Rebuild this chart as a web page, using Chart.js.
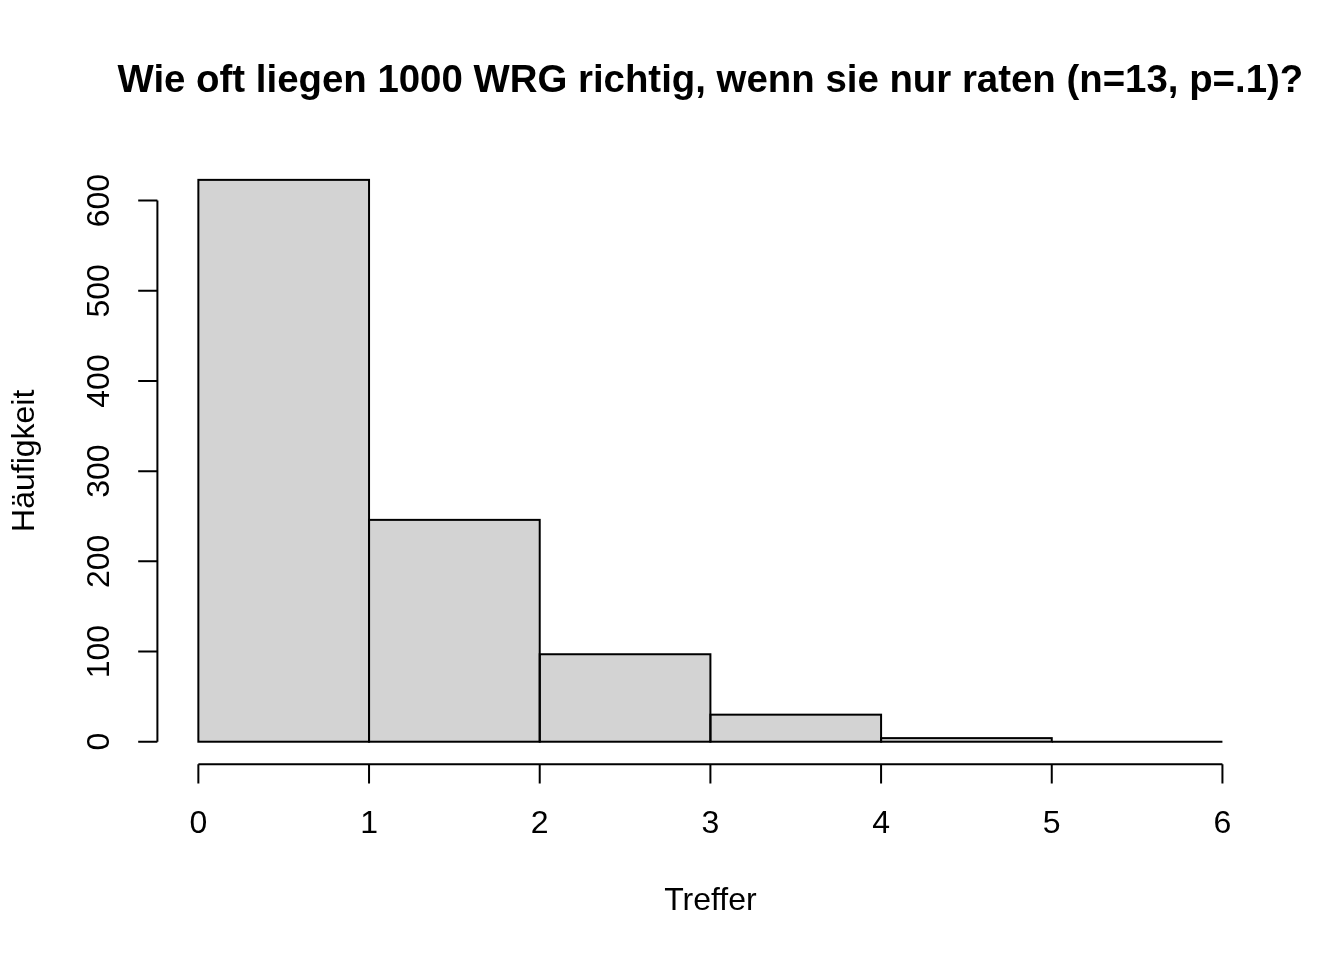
<!DOCTYPE html>
<html>
<head>
<meta charset="utf-8">
<script src="https://cdn.jsdelivr.net/npm/chart.js@4/dist/chart.umd.min.js"></script>
<style>
  html, body { margin: 0; padding: 0; background: #ffffff; }
  canvas { display: block; }
</style>
</head>
<body>
<canvas id="c" width="1344" height="960"></canvas>
<script>
// ---- data ----
const titleText = "Wie oft liegen 1000 WRG richtig, wenn sie nur raten (n=13, p=.1)?";
const xTitle = "Treffer";
const yTitle = "Häufigkeit";
const breaks = [0, 1, 2, 3, 4, 5, 6];
const counts = [623, 246, 97, 30, 4, 0];
const xTicks = [0, 1, 2, 3, 4, 5, 6];
const yTicks = [0, 100, 200, 300, 400, 500, 600];

const barData = counts.map((c, i) => ({ x: (breaks[i] + breaks[i + 1]) / 2, y: c }));

const xMinData = breaks[0], xMaxData = breaks[breaks.length - 1];
const xPad = (xMaxData - xMinData) * 0.04;
const yMaxData = Math.max(...counts);
const yPad = yMaxData * 0.04;

const LINE = 38.4;   // one R margin line in px
const FONT = 'Liberation Sans, Arial, sans-serif';

const rStyle = {
  id: 'rStyle',
  afterDatasetsDraw(chart) {
    const ctx = chart.ctx;
    const meta = chart.getDatasetMeta(0);
    ctx.save();
    ctx.strokeStyle = '#000000';
    ctx.lineWidth = 2;
    ctx.lineJoin = 'miter';
    meta.data.forEach(el => {
      const p = el.getProps(['x', 'y', 'base', 'width'], true);
      const left = p.x - p.width / 2;
      const top = Math.min(p.y, p.base);
      const h = Math.abs(p.base - p.y);
      ctx.strokeRect(left, top, p.width, h);
    });
    ctx.restore();
  },
  afterDraw(chart) {
    const ctx = chart.ctx;
    const a = chart.chartArea;
    const xs = chart.scales.x, ys = chart.scales.y;
    const tick = LINE * 0.5;
    ctx.save();
    ctx.strokeStyle = '#000000';
    ctx.fillStyle = '#000000';
    ctx.lineWidth = 2;
    ctx.lineCap = 'butt';

    // x axis
    const xa = a.bottom;
    ctx.beginPath();
    ctx.moveTo(xs.getPixelForValue(xTicks[0]), xa);
    ctx.lineTo(xs.getPixelForValue(xTicks[xTicks.length - 1]), xa);
    xTicks.forEach(t => {
      const px = xs.getPixelForValue(t);
      ctx.moveTo(px, xa);
      ctx.lineTo(px, xa + tick);
    });
    ctx.stroke();
    ctx.font = '32px ' + FONT;
    ctx.textAlign = 'center';
    ctx.textBaseline = 'middle';
    xTicks.forEach(t => {
      ctx.fillText(String(t), xs.getPixelForValue(t), xa + LINE * 1.56);
    });

    // y axis
    const ya = a.left;
    ctx.beginPath();
    ctx.moveTo(ya, ys.getPixelForValue(yTicks[0]));
    ctx.lineTo(ya, ys.getPixelForValue(yTicks[yTicks.length - 1]));
    yTicks.forEach(t => {
      const py = ys.getPixelForValue(t);
      ctx.moveTo(ya, py);
      ctx.lineTo(ya - tick, py);
    });
    ctx.stroke();
    yTicks.forEach(t => {
      ctx.save();
      ctx.translate(ya - LINE * 1.48, ys.getPixelForValue(t));
      ctx.rotate(-Math.PI / 2);
      ctx.fillText(String(t), 0, 0);
      ctx.restore();
    });

    // axis titles
    ctx.fillText(xTitle, (a.left + a.right) / 2, a.bottom + LINE * 3.56);
    ctx.save();
    ctx.translate(a.left - LINE * 3.44, (a.top + a.bottom) / 2);
    ctx.rotate(-Math.PI / 2);
    ctx.fillText(yTitle, 0, 0);
    ctx.restore();

    // main title
    ctx.font = 'bold 38.4px ' + FONT;
    ctx.fillText(titleText, (a.left + a.right) / 2, 81);
    ctx.restore();
  }
};

new Chart(document.getElementById('c'), {
  type: 'bar',
  data: {
    datasets: [{
      data: barData,
      backgroundColor: '#D3D3D3',
      borderWidth: 0,
      barPercentage: 1.0,
      categoryPercentage: 1.0,
      inflateAmount: 0
    }]
  },
  options: {
    responsive: false,
    animation: false,
    devicePixelRatio: 1,
    layout: { padding: { left: 157.4, right: 80.6, top: 157.4, bottom: 195.8 } },
    plugins: { legend: { display: false }, title: { display: false }, tooltip: { enabled: false } },
    scales: {
      x: { type: 'linear', offset: false, min: xMinData - xPad, max: xMaxData + xPad, display: false },
      y: { type: 'linear', min: -yPad, max: yMaxData + yPad, display: false }
    }
  },
  plugins: [rStyle]
});
</script>
</body>
</html>
